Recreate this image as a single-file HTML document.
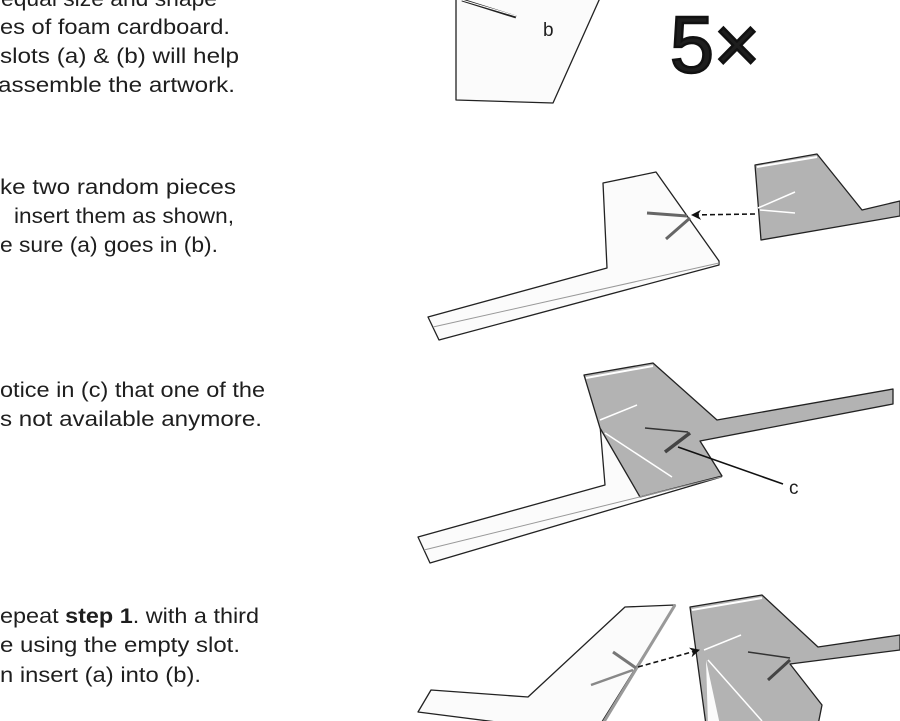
<!DOCTYPE html>
<html><head><meta charset="utf-8"><style>
html,body{margin:0;padding:0;background:#fff;width:900px;height:721px;overflow:hidden}
svg{display:block}
text{font-family:"Liberation Sans",sans-serif;fill:#1e1e1e}
</style></head><body>
<svg width="900" height="721" viewBox="0 0 900 721" xmlns="http://www.w3.org/2000/svg">
<defs>
<marker id="ah" markerWidth="10" markerHeight="10" refX="9" refY="5" orient="auto" markerUnits="userSpaceOnUse">
<path d="M0,0 L10,5 L0,10 L3,5 Z" fill="#111"/></marker>
</defs>
<g font-size="21">
<text x="1" y="6" textLength="216" lengthAdjust="spacingAndGlyphs">equal size and shape</text>
<text x="0" y="34" textLength="230" lengthAdjust="spacingAndGlyphs">es of foam cardboard.</text>
<text x="0" y="63" textLength="239" lengthAdjust="spacingAndGlyphs">slots (a) &amp; (b) will help</text>
<text x="-2" y="92" textLength="237" lengthAdjust="spacingAndGlyphs">assemble the artwork.</text>
<text x="0" y="194" textLength="236" lengthAdjust="spacingAndGlyphs">ke two random pieces</text>
<text x="14" y="223" textLength="220" lengthAdjust="spacingAndGlyphs">insert them as shown,</text>
<text x="0" y="252" textLength="218" lengthAdjust="spacingAndGlyphs">e sure (a) goes in (b).</text>
<text x="0" y="397" textLength="265" lengthAdjust="spacingAndGlyphs">otice in (c) that one of the</text>
<text x="0" y="426" textLength="262" lengthAdjust="spacingAndGlyphs">s not available anymore.</text>
<text x="0" y="623" textLength="259" lengthAdjust="spacingAndGlyphs">epeat <tspan font-weight="bold">step 1</tspan>. with a third</text>
<text x="0" y="652" textLength="240" lengthAdjust="spacingAndGlyphs">e using the empty slot.</text>
<text x="0" y="682" textLength="201" lengthAdjust="spacingAndGlyphs">n insert (a) into (b).</text>
</g>
<text x="670" y="72" font-size="80" textLength="90" lengthAdjust="spacingAndGlyphs" fill="#111" stroke="#111" stroke-width="2.5">5×</text>

<g stroke="#222" stroke-width="1.3" stroke-linejoin="round">
<polygon points="456,-2 600,-2 553,103 456,100" fill="#fbfbfb"/>
<line x1="462" y1="0" x2="516" y2="17" stroke-width="3"/>
<line x1="462" y1="0" x2="516" y2="16" stroke="#fff" stroke-width="1"/>

<polygon points="603,183 656,172 719,261 719,265 439,340 428,317 607,268" fill="#fbfbfb"/>
<line x1="433" y1="327" x2="719" y2="263" stroke="#999" stroke-width="1"/>
<line x1="647" y1="213" x2="687" y2="216" stroke="#666" stroke-width="3"/>
<line x1="666" y1="239" x2="690" y2="218" stroke="#666" stroke-width="3"/>
<polygon points="755,165 817,154 862,210 900,201 900,216 761,240" fill="#b3b3b3"/>
<line x1="757" y1="167" x2="817" y2="157" stroke="#fff" stroke-width="2"/>
<line x1="862" y1="207" x2="900" y2="199" stroke="#fff" stroke-width="2"/>
<line x1="758" y1="208" x2="795" y2="192" stroke="#fff" stroke-width="1.5"/>
<line x1="760" y1="210" x2="795" y2="213" stroke="#fff" stroke-width="1.5"/>
<line x1="755" y1="214" x2="692" y2="215" stroke="#111" stroke-width="1.6" stroke-dasharray="5,3" marker-end="url(#ah)"/>

<polygon points="600,425 605,485 418,537 430,563 721,477 700,443" fill="#fbfbfb"/>
<polygon points="584,375 653,363 717,420 893,389 893,404 700,441 722,476 640,497 600,428" fill="#b3b3b3"/>
<line x1="586" y1="378" x2="653" y2="366" stroke="#fff" stroke-width="2"/>
<line x1="717" y1="417" x2="892" y2="387" stroke="#fff" stroke-width="2"/>
<line x1="600" y1="420" x2="637" y2="405" stroke="#fff" stroke-width="1.5"/>
<line x1="605" y1="433" x2="672" y2="477" stroke="#fff" stroke-width="1.5"/>
<line x1="645" y1="428" x2="688" y2="432" stroke="#333" stroke-width="1.5"/>
<line x1="665" y1="452" x2="690" y2="433" stroke="#444" stroke-width="3.5"/>
<line x1="424" y1="550" x2="721" y2="477" stroke="#999" stroke-width="1"/>
<line x1="678" y1="447" x2="783" y2="484" stroke="#111" stroke-width="1.6"/>
</g>
<text x="789" y="494" font-size="19">c</text>
<text x="543" y="36" font-size="19">b</text>

<g stroke="#222" stroke-width="1.3" stroke-linejoin="round">
<polygon points="625,607 675,605 600,725 520,725 418,712 431,690 528,697" fill="#fbfbfb"/>
<line x1="675" y1="605" x2="602" y2="725" stroke="#999" stroke-width="3"/>
<line x1="613" y1="652" x2="636" y2="668" stroke="#777" stroke-width="3"/>
<line x1="591" y1="685" x2="633" y2="670" stroke="#888" stroke-width="2.5"/>
<polygon points="690,607 762,595 818,647 900,635 900,650 790,664 822,705 818,725 706,725" fill="#b3b3b3"/>
<line x1="692" y1="610" x2="762" y2="598" stroke="#fff" stroke-width="2"/>
<line x1="818" y1="644" x2="900" y2="632" stroke="#fff" stroke-width="2"/>
<polygon points="706,660 720,725 708,725" fill="#fbfbfb" stroke="none"/>
<line x1="704" y1="650" x2="741" y2="635" stroke="#fff" stroke-width="1.5"/>
<line x1="708" y1="660" x2="762" y2="721" stroke="#fff" stroke-width="1.5"/>
<line x1="748" y1="652" x2="790" y2="658" stroke="#333" stroke-width="1.5"/>
<line x1="768" y1="680" x2="790" y2="660" stroke="#444" stroke-width="3"/>
<line x1="638" y1="667" x2="699" y2="650" stroke="#111" stroke-width="1.6" stroke-dasharray="5,3" marker-end="url(#ah)"/>
</g>
</svg>
</body></html>
